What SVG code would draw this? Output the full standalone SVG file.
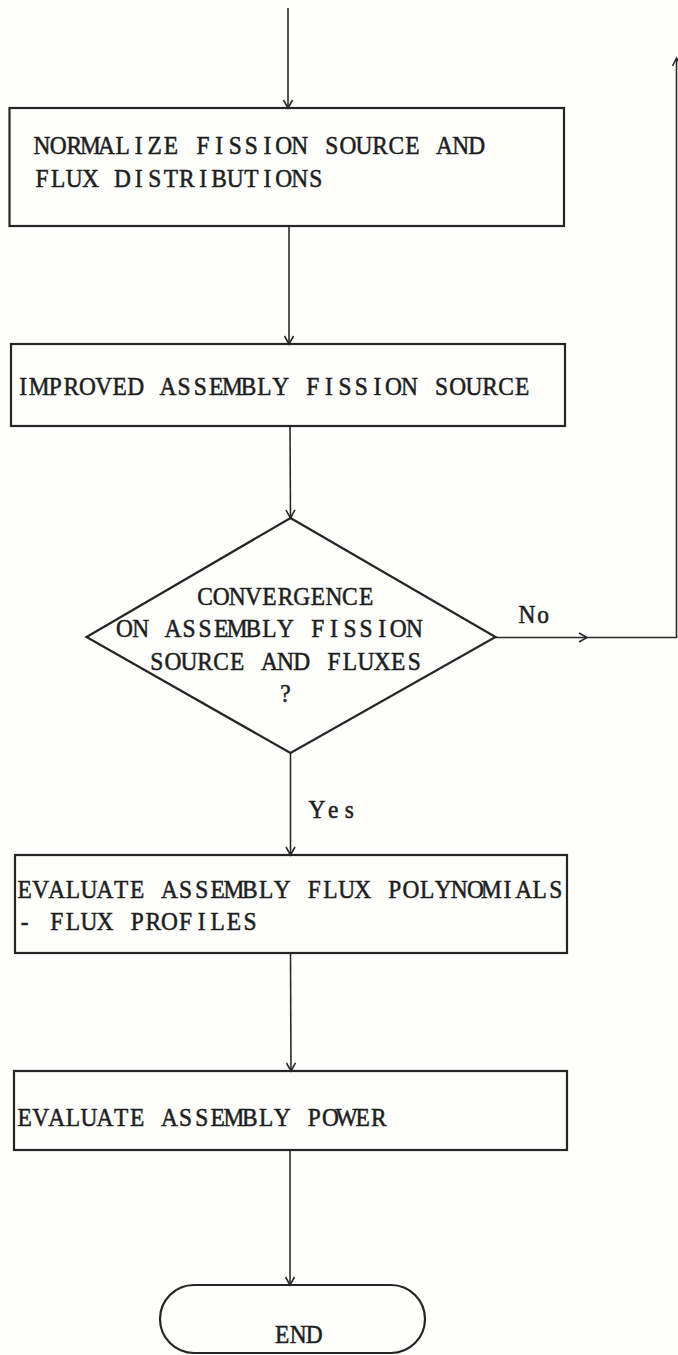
<svg xmlns="http://www.w3.org/2000/svg" width="678" height="1355" viewBox="0 0 678 1355">
  <style>
    .bg { fill: #fefefd; }
    .box { fill: none; stroke: #252525; stroke-width: 2.2; }
    .conn { fill: none; stroke: #2a2a2a; stroke-width: 1.6; }
    .head { fill: none; stroke: #2a2a2a; stroke-width: 1.6; stroke-linejoin: miter; }
    /* typewriter look: serif face, slightly condensed, one glyph per 16.1px cell */
    .t { font-family: "Liberation Serif", "Times New Roman", serif; font-size: 26px; text-anchor: middle; fill: #1e1e1e; stroke: #1e1e1e; stroke-width: 0.55; }
  </style>
  <defs>
    <marker id="vee" markerUnits="userSpaceOnUse" markerWidth="20" markerHeight="20" refX="0" refY="0" viewBox="-10 -10 20 20" orient="auto" overflow="visible">
      <path class="head" d="M-8,-4.5 L0,0 L-8,4.5"/>
    </marker>
  </defs>

  <rect class="bg" x="0" y="0" width="678" height="1355"/>

  <!-- connectors -->
  <g id="connectors">
    <line class="conn" x1="288" y1="8" x2="288" y2="108" marker-end="url(#vee)"/>
    <line class="conn" x1="289" y1="226" x2="289" y2="344" marker-end="url(#vee)"/>
    <line class="conn" x1="290" y1="426" x2="290.5" y2="518" marker-end="url(#vee)"/>
    <line class="conn" x1="290.5" y1="753" x2="290.5" y2="855" marker-end="url(#vee)"/>
    <line class="conn" x1="290.5" y1="953" x2="291" y2="1071" marker-end="url(#vee)"/>
    <line class="conn" x1="290" y1="1150" x2="290" y2="1285" marker-end="url(#vee)"/>
    <!-- "No" branch: out to the right margin and back up -->
    <line class="conn" x1="495.5" y1="637.5" x2="587" y2="637.5" marker-end="url(#vee)"/>
    <polyline class="conn" points="587,637.5 676.5,637.5 676.5,60"/>
    <path class="head" d="M672.5,66 L676.5,58 L680.5,66"/>
    <text class="t" transform="scale(0.9 1)" x="352.3 370.2 388.1" y="818">Yes</text>
    <text class="t" transform="scale(0.9 1)" x="585.6 603.5" y="623">No</text>
  </g>

  <g id="normalize">
    <rect class="box" x="9.5" y="108" width="554.5" height="118"/>
    <text class="t" transform="scale(0.9 1)" y="154" x="46.7 64.6 82.5 100.4 118.3 136.2 154.1 171.9 189.8 207.7 225.6 243.5 261.4 279.3 297.2 315.1 332.9 350.8 368.7 386.6 404.5 422.4 440.3 458.2 476.1 493.9 511.8 529.7">NORMALIZE FISSION SOURCE AND</text>
    <text class="t" transform="scale(0.9 1)" y="187" x="46.7 64.6 82.5 100.4 118.3 136.2 154.1 171.9 189.8 207.7 225.6 243.5 261.4 279.3 297.2 315.1 332.9 350.8">FLUX DISTRIBUTIONS</text>
  </g>

  <g id="improved-source">
    <rect class="box" x="11" y="344" width="554" height="82"/>
    <text class="t" transform="scale(0.9 1)" y="395" x="25.6 43.5 61.4 79.3 97.2 115.1 132.9 150.8 168.7 186.6 204.5 222.4 240.3 258.2 276.1 293.9 311.8 329.7 347.6 365.5 383.4 401.3 419.2 437.1 454.9 472.8 490.7 508.6 526.5 544.4 562.3 580.2">IMPROVED ASSEMBLY FISSION SOURCE</text>
  </g>

  <g id="convergence">
    <polygon class="box" points="290.5,518 495.5,637 290.5,753 86.5,637"/>
    <text class="t" transform="scale(0.9 1)" y="605" x="227.8 245.7 263.6 281.5 299.4 317.3 335.2 353.1 371.0 388.8 406.7">CONVERGENCE</text>
    <text class="t" transform="scale(0.9 1)" y="637" x="138.4 156.3 174.2 192.1 209.9 227.8 245.7 263.6 281.5 299.4 317.3 335.2 353.1 371.0 388.8 406.7 424.6 442.5 460.4">ON ASSEMBLY FISSION</text>
    <text class="t" transform="scale(0.9 1)" y="670" x="174.2 192.1 209.9 227.8 245.7 263.6 281.5 299.4 317.3 335.2 353.1 371.0 388.8 406.7 424.6 442.5 460.4">SOURCE AND FLUXES</text>
    <text class="t" transform="scale(0.9 1)" y="702" x="317.3">?</text>
  </g>

  <g id="flux-profiles">
    <rect class="box" x="15" y="855" width="552" height="98"/>
    <text class="t" transform="scale(0.9 1)" y="898" x="27.3 45.2 63.1 80.9 98.8 116.7 134.6 152.5 170.4 188.3 206.2 224.1 241.9 259.8 277.7 295.6 313.5 331.4 349.3 367.2 385.1 402.9 420.8 438.7 456.6 474.5 492.4 510.3 528.2 546.1 563.9 581.8 599.7 617.6">EVALUATE ASSEMBLY FLUX POLYNOMIALS</text>
    <text class="t" transform="scale(0.9 1)" y="930" x="27.3 45.2 63.1 80.9 98.8 116.7 134.6 152.5 170.4 188.3 206.2 224.1 241.9 259.8 277.7">- FLUX PROFILES</text>
  </g>

  <g id="assembly-power">
    <rect class="box" x="14" y="1071" width="553" height="79"/>
    <text class="t" transform="scale(0.9 1)" y="1126" x="27.3 45.2 63.1 80.9 98.8 116.7 134.6 152.5 170.4 188.3 206.2 224.1 241.9 259.8 277.7 295.6 313.5 331.4 349.3 367.2 385.1 402.9 420.8">EVALUATE ASSEMBLY POWER</text>
  </g>

  <g id="end">
    <rect class="box" x="160" y="1285" width="265" height="68" rx="34" ry="34"/>
    <text class="t" transform="scale(0.9 1)" y="1343" x="313.4 331.3 349.2">END</text>
  </g>
</svg>
